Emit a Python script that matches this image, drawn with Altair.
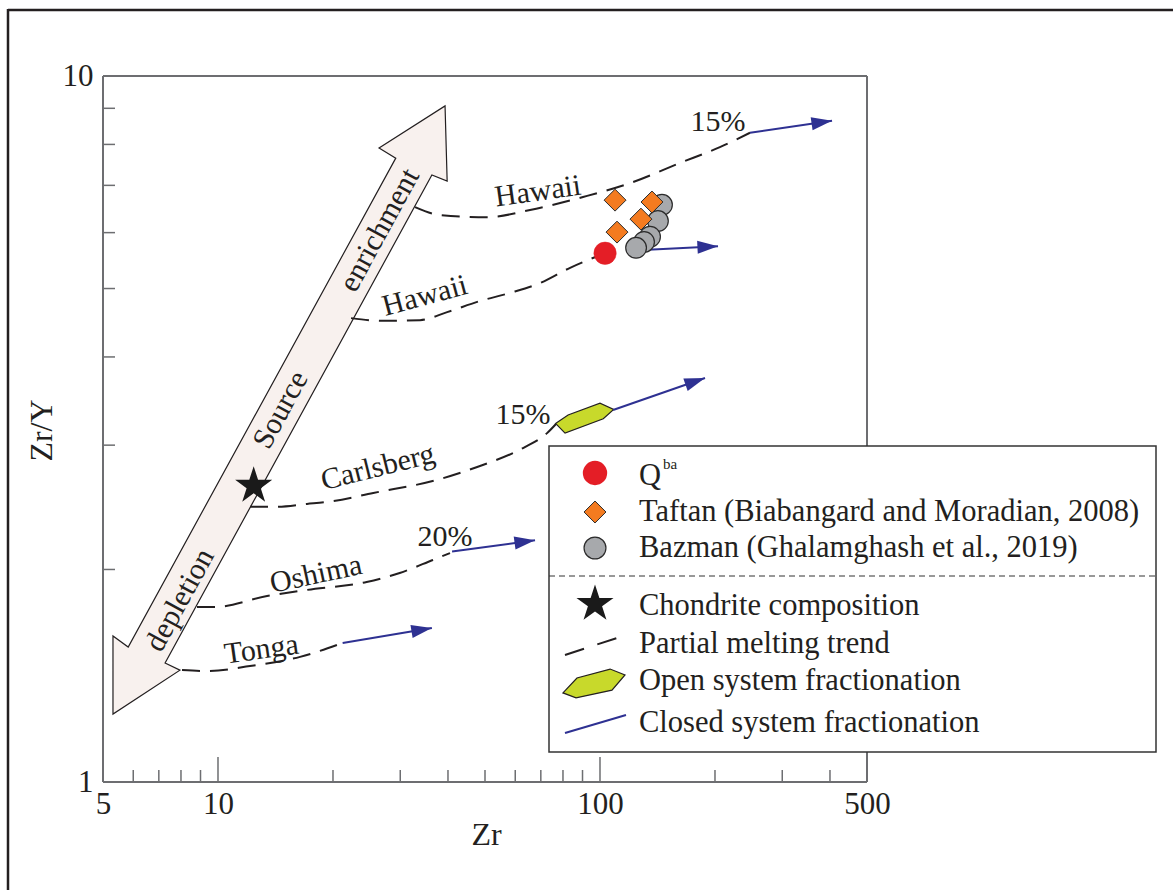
import math
import altair as alt
import pandas as pd

FONT = "Liberation Serif"
INK = "#231f20"
BLUE = "#2e3192"
FRAME = "#6d6e71"
W, H = 764, 706

# ---------------- axes ----------------
x_domain = [5, 500]
y_domain = [1, 10]
x_labels = [5, 10, 100, 500]
y_labels = [1, 10]
x_minor = [6, 7, 8, 9, 20, 30, 40, 50, 60, 70, 80, 90, 200, 300, 400]
x_major = [10, 100]
y_minor = [2, 3, 4, 5, 6, 7, 8, 9]

# ---------------- source enrichment / depletion arrow outline ----------------
arrow_x = [39.3, 39.8, 36.3, 7.27, 7.95, 5.31, 5.31, 5.82, 29.2, 26.4, 39.3]
arrow_y = [9.07, 7.10, 7.24, 1.474, 1.44, 1.248, 1.61, 1.553, 7.65, 7.91, 9.07]
arrow_words = ["enrichment", "Source", "depletion"]
arrow_words_x = [26.5, 14.6, 7.95]
arrow_words_y = [6.05, 3.365, 1.81]

# ---------------- partial melting trends ----------------
hawaii1_x = [32.8, 38.1, 50.6, 65.6, 90.3, 119.8, 161.9, 206, 247]
hawaii1_y = [6.52, 6.355, 6.31, 6.46, 6.74, 7.05, 7.53, 7.93, 8.31]
hawaii2_x = [22.3, 27.0, 33.8, 39.8, 48.5, 58.2, 69.7, 83.5, 103.1]
hawaii2_y = [4.54, 4.50, 4.51, 4.63, 4.80, 4.93, 5.09, 5.35, 5.61]
carlsberg_x = [12.13, 14.1, 17.1, 20.0, 25.5, 37.4, 47.7, 62.9, 72.7, 76.7]
carlsberg_y = [2.453, 2.453, 2.477, 2.50, 2.567, 2.678, 2.794, 2.972, 3.12, 3.214]
oshima_x = [8.81, 9.82, 13.44, 17.1, 24.5, 29.9, 36.5, 40.5]
oshima_y = [1.77, 1.77, 1.834, 1.871, 1.92, 1.977, 2.063, 2.11]
tonga_x = [8.05, 9.36, 12.13, 16.4, 21.2]
tonga_y = [1.441, 1.436, 1.46, 1.504, 1.574]

# ---------------- closed system fractionation vectors ----------------
closed_x0 = [247, 129.6, 108.2, 41.0, 21.2]
closed_y0 = [8.31, 5.67, 3.365, 2.12, 1.574]
closed_x1 = [405, 203.7, 188.3, 67.6, 36.3]
closed_y1 = [8.64, 5.74, 3.735, 2.20, 1.652]

# ---------------- open system fractionation field ----------------
open_x = [76.5, 82.5, 100.0, 108.6, 102.0, 81.0, 76.5]
open_y = [3.22, 3.31, 3.44, 3.37, 3.27, 3.12, 3.22]

# ---------------- samples ----------------
qba_x = [103.1]
qba_y = [5.61]
taftan_x = [109.5, 136.8, 128.0, 110.8]
taftan_y = [6.67, 6.63, 6.27, 6.01]
bazman_x = [145.3, 141.8, 135.2, 130.4, 124.3]
bazman_y = [6.57, 6.23, 5.92, 5.82, 5.71]
chondrite_x = [12.4]
chondrite_y = [2.627]

# ---------------- curve labels ----------------
label_text = ["15%", "Hawaii", "Hawaii", "15%", "Carlsberg", "20%", "Oshima", "Tonga"]
label_x = [203.7, 68.8, 34.8, 62.9, 26.2, 39.3, 18.05, 13.0]
label_y = [8.61, 6.86, 4.88, 3.31, 2.79, 2.22, 1.968, 1.54]
label_rotation = [0, 352, 345, 0, 346, 0, 348, 352]

STAR = ("M0,-1L0.2245,-0.309L0.9511,-0.309L0.3633,0.118L0.5878,0.809L0,0.382"
        "L-0.5878,0.809L-0.3633,0.118L-0.9511,-0.309L-0.2245,-0.309Z")
HEAD = "M0,0L-1,-0.32L-1,0.32Z"
HEX = "M-1,0.32L-0.55,-0.16L0.52,-0.45L1,-0.26L0.58,0.23L-0.58,0.48Z"


def pts(xs, ys, **extra):
    d = pd.DataFrame({"x": xs, "y": ys})
    d["i"] = range(len(d))
    for k, v in extra.items():
        d[k] = v
    return d


one = pd.DataFrame({"a": [0]})

x_scale = alt.Scale(type="log", domain=x_domain, nice=False)
y_scale = alt.Scale(type="log", domain=y_domain, nice=False)
x_axis = alt.Axis(values=x_labels, format="d", title="Zr", labelFont=FONT, labelFontSize=31,
                  labelColor=INK, labelPadding=7, labelFlush=False, labelOverlap=False,
                  ticks=False, domain=False, grid=False, titleFont=FONT, titleFontSize=32,
                  titleFontWeight="normal", titleColor=INK, titleX=383, titleY=62,
                  titleBaseline="alphabetic")
y_axis = alt.Axis(values=y_labels, format="d", title="Zr/Y", labelFont=FONT, labelFontSize=31,
                  labelColor=INK, labelPadding=10, labelFlush=False, labelOverlap=False,
                  ticks=False, domain=False, grid=False, titleFont=FONT, titleFontSize=32,
                  titleFontWeight="normal", titleColor=INK, titleX=-52, titleY=354,
                  titleAngle=270, titleBaseline="alphabetic")
X = alt.X("x:Q", scale=x_scale, axis=x_axis)
Y = alt.Y("y:Q", scale=y_scale, axis=y_axis)
X2 = alt.X2("x1:Q")
Y2 = alt.Y2("y1:Q")

layers = []

# outer figure border (top and left)
layers.append(alt.Chart(one).mark_rule(color="#231f20", strokeWidth=2.5).encode(
    x=alt.value(-95), x2=alt.value(1075), y=alt.value(-66)))
layers.append(alt.Chart(one).mark_rule(color="#231f20", strokeWidth=2.5).encode(
    x=alt.value(-95), y=alt.value(-67), y2=alt.value(820)))

# ticks (inward)
layers.append(alt.Chart(pts(x_minor, [1] * len(x_minor))).mark_rule(color=FRAME, strokeWidth=1.5).encode(
    x=X, y=alt.value(H), y2=alt.value(H - 12)))
layers.append(alt.Chart(pts(x_major, [1] * len(x_major))).mark_rule(color=FRAME, strokeWidth=1.5).encode(
    x=X, y=alt.value(H), y2=alt.value(H - 25)))
layers.append(alt.Chart(pts([5] * len(y_minor), y_minor)).mark_rule(color=FRAME, strokeWidth=1.5).encode(
    y=Y, x=alt.value(0), x2=alt.value(12)))

# plot frame
for enc in [dict(x=alt.value(0), x2=alt.value(W), y=alt.value(0)),
            dict(x=alt.value(0), x2=alt.value(W), y=alt.value(H)),
            dict(x=alt.value(0), y=alt.value(0), y2=alt.value(H)),
            dict(x=alt.value(W), y=alt.value(0), y2=alt.value(H))]:
    layers.append(alt.Chart(one).mark_rule(color=FRAME, strokeWidth=2).encode(**enc))

# big double arrow
layers.append(alt.Chart(pts(arrow_x, arrow_y)).mark_line(
    fill="#f8f1ee", stroke=INK, strokeWidth=1.2, interpolate="linear-closed").encode(
    x=X, y=Y, order="i:Q"))
layers.append(alt.Chart(pts(arrow_words_x, arrow_words_y, t=arrow_words)).mark_text(
    font=FONT, fontSize=30, color=INK, angle=298.6).encode(x=X, y=Y, text="t:N"))

# partial melting trends
curves = pd.concat([
    pts(hawaii1_x, hawaii1_y, c="Hawaii1"),
    pts(hawaii2_x, hawaii2_y, c="Hawaii2"),
    pts(carlsberg_x, carlsberg_y, c="Carlsberg"),
    pts(oshima_x, oshima_y, c="Oshima"),
    pts(tonga_x, tonga_y, c="Tonga"),
])
layers.append(alt.Chart(curves).mark_line(
    color=INK, strokeWidth=2, strokeDash=[18, 10], interpolate="monotone").encode(
    x=X, y=Y, detail="c:N", order="i:Q"))

# open system field
layers.append(alt.Chart(pts(open_x, open_y)).mark_line(
    fill="#c8d92b", stroke=INK, strokeWidth=1.2, interpolate="linear-closed").encode(
    x=X, y=Y, order="i:Q"))

# closed system vectors
cl = pd.DataFrame({"x": closed_x0, "y": closed_y0, "x1": closed_x1, "y1": closed_y1})
cl["ang"] = [
    math.degrees(math.atan2(-(math.log10(b1) - math.log10(b0)) * H / 1.0,
                            (math.log10(a1) - math.log10(a0)) * W / 2.0)) % 360
    for a0, b0, a1, b1 in zip(closed_x0, closed_y0, closed_x1, closed_y1)
]
layers.append(alt.Chart(cl).mark_rule(color=BLUE, strokeWidth=2).encode(x=X, y=Y, x2=X2, y2=Y2))
layers.append(alt.Chart(cl).mark_point(shape=HEAD, filled=True, color=BLUE, opacity=1, size=1700).encode(
    x=alt.X("x1:Q", scale=x_scale, axis=x_axis), y=alt.Y("y1:Q", scale=y_scale, axis=y_axis),
    angle=alt.Angle("ang:Q", scale=None)))

# curve labels
for t, lx, ly, rot in zip(label_text, label_x, label_y, label_rotation):
    layers.append(alt.Chart(pts([lx], [ly], t=[t])).mark_text(
        font=FONT, fontSize=30, color=INK, angle=rot).encode(x=X, y=Y, text="t:N"))

# samples
layers.append(alt.Chart(pts(chondrite_x, chondrite_y)).mark_point(
    shape=STAR, filled=True, color="#1a1a1a", opacity=1, size=1520).encode(x=X, y=Y))
layers.append(alt.Chart(pts(bazman_x, bazman_y)).mark_point(
    shape="circle", filled=True, fill="#a7a9ac", stroke="#2b2b2b", strokeWidth=1.2,
    opacity=1, size=430).encode(x=X, y=Y))
layers.append(alt.Chart(pts(taftan_x, taftan_y)).mark_point(
    shape="diamond", filled=True, fill="#f47b20", stroke="#2b2b2b", strokeWidth=1,
    opacity=1, size=480).encode(x=X, y=Y))
layers.append(alt.Chart(pts(qba_x, qba_y)).mark_point(
    shape="circle", filled=True, fill="#e41e26", stroke="#e41e26", strokeWidth=0.5,
    opacity=1, size=500).encode(x=X, y=Y))

# ---------------- legend (layout in pixels relative to the plot origin) ----------------
layers.append(alt.Chart(one).mark_rect(fill="white", stroke="#333333", strokeWidth=1.5).encode(
    x=alt.value(446), x2=alt.value(1053), y=alt.value(370), y2=alt.value(676)))
layers.append(alt.Chart(one).mark_rule(color="#333333", strokeWidth=1, strokeDash=[6, 4]).encode(
    x=alt.value(446), x2=alt.value(1053), y=alt.value(500)))
SX = 492
layers.append(alt.Chart(one).mark_point(shape="circle", filled=True, fill="#e41e26", stroke="#e41e26",
                                         opacity=1, size=500).encode(x=alt.value(SX), y=alt.value(397)))
layers.append(alt.Chart(one).mark_point(shape="diamond", filled=True, fill="#f47b20", stroke="#2b2b2b",
                                         strokeWidth=1, opacity=1, size=480).encode(x=alt.value(SX), y=alt.value(436)))
layers.append(alt.Chart(one).mark_point(shape="circle", filled=True, fill="#a7a9ac", stroke="#2b2b2b",
                                         strokeWidth=1.2, opacity=1, size=480).encode(x=alt.value(SX), y=alt.value(472)))
layers.append(alt.Chart(one).mark_point(shape=STAR, filled=True, color="#1a1a1a", opacity=1,
                                         size=1520).encode(x=alt.value(SX), y=alt.value(528)))
layers.append(alt.Chart(one).mark_rule(color=INK, strokeWidth=2, strokeDash=[20, 14]).encode(
    x=alt.value(462), x2=alt.value(520), y=alt.value(579), y2=alt.value(560)))
layers.append(alt.Chart(one).mark_point(shape=HEX, filled=True, fill="#c8d92b", stroke=INK, strokeWidth=1.2,
                                         opacity=1, size=3844).encode(x=alt.value(491), y=alt.value(607)))
layers.append(alt.Chart(one).mark_rule(color=BLUE, strokeWidth=2).encode(
    x=alt.value(462), x2=alt.value(523), y=alt.value(657), y2=alt.value(639)))

legend_text = ["Q", "Taftan (Biabangard and Moradian, 2008)", "Bazman (Ghalamghash et al., 2019)",
               "Chondrite composition", "Partial melting trend", "Open system fractionation",
               "Closed system fractionation"]
legend_baseline = [409, 445, 481, 539, 577, 614, 656]
for t, by in zip(legend_text, legend_baseline):
    layers.append(alt.Chart(one).mark_text(font=FONT, fontSize=30.5, color=INK, align="left",
                                           baseline="alphabetic", text=t).encode(
        x=alt.value(536), y=alt.value(by)))
layers.append(alt.Chart(one).mark_text(font=FONT, fontSize=15, color=INK, align="left",
                                       baseline="alphabetic", text="ba").encode(
    x=alt.value(560), y=alt.value(393)))

chart = alt.layer(*layers).properties(
    width=W, height=H,
    padding={"left": 103, "top": 76, "right": 306, "bottom": 108},
    autosize="none",
    background="white",
).configure_view(stroke=None)

chart.save("out.html", embed_options={"renderer": "svg", "actions": False})
